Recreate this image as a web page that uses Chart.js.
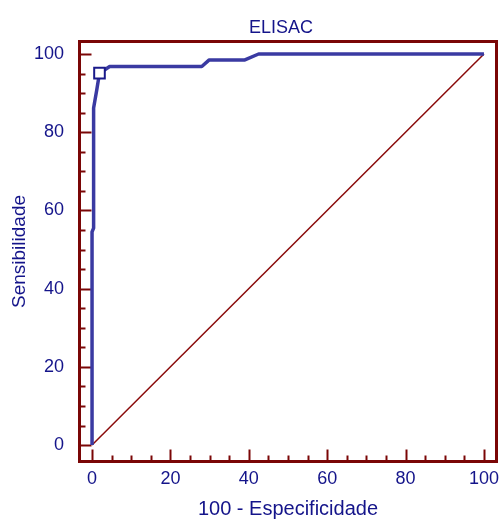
<!DOCTYPE html>
<html>
<head>
<meta charset="utf-8">
<script src="https://cdn.jsdelivr.net/npm/chart.js@4/dist/chart.umd.min.js"></script>
<style>
  html, body { margin: 0; padding: 0; background: #ffffff; overflow: hidden; }
  #wrap { width: 501px; height: 523px; }
  canvas { display: block; }
</style>
</head>
<body>
<div id="wrap"><canvas id="c" width="501" height="523"></canvas></div>
<script>
// ROC curve values (x = 100 - Especificidade, y = Sensibilidade)
const chartTitle = 'ELISAC';
const xTitle = '100 - Especificidade';
const yTitle = 'Sensibilidade';
const rocX = [0, 0, 0.4, 0.4, 1.2, 1.9, 4.5, 28.0, 29.9, 39.0, 42.5, 100];
const rocY = [0, 54.5, 55.5, 86.2, 90.8, 95.1, 96.8, 96.8, 98.5, 98.5, 100, 100];
const optimalX = [1.9];
const optimalY = [95.1];
const diagX = [0, 100];
const diagY = [0, 100];
const majorTicks = [0, 20, 40, 60, 80, 100];
const minorTicks = [0, 5, 10, 15, 20, 25, 30, 35, 40, 45, 50, 55, 60, 65, 70, 75, 80, 85, 90, 95, 100];

const NAVY = '#14148a';
const CURVE = '#3a3aa2';
const MAROON = '#7a0606';

const toPts = (xs, ys) => xs.map((x, i) => ({x: x, y: ys[i]}));

const framePlugin = {
  id: 'frame',
  beforeDatasetsDraw(chart) {
    const {ctx, chartArea: a, scales: {x, y}} = chart;
    ctx.save();
    ctx.strokeStyle = MAROON;
    ctx.lineWidth = 2;
    minorTicks.forEach(v => {
      const len = majorTicks.includes(v) ? 12 : 6;
      const px = Math.round(x.getPixelForValue(v)) + 0.5;
      ctx.beginPath();
      ctx.moveTo(px, a.bottom);
      ctx.lineTo(px, a.bottom - len);
      ctx.stroke();
      const py = Math.round(y.getPixelForValue(v)) + 0.5;
      ctx.beginPath();
      ctx.moveTo(a.left, py);
      ctx.lineTo(a.left + len, py);
      ctx.stroke();
    });
    ctx.restore();
  },
  afterDraw(chart) {
    const {ctx, chartArea: a} = chart;
    ctx.save();
    ctx.strokeStyle = MAROON;
    ctx.lineWidth = 3;
    ctx.strokeRect(a.left, a.top, a.right - a.left, a.bottom - a.top);
    ctx.fillStyle = NAVY;
    ctx.font = '18px "Liberation Sans", Arial, sans-serif';
    ctx.textAlign = 'center';
    ctx.textBaseline = 'alphabetic';
    ctx.fillText(chartTitle, 281, 32.5);
    ctx.restore();
  }
};

new Chart(document.getElementById('c'), {
  type: 'scatter',
  data: {
    datasets: [
      {
        data: toPts(diagX, diagY),
        showLine: true,
        borderColor: '#8a0a0a',
        borderWidth: 1.5,
        pointRadius: 0,
        tension: 0,
        order: 3
      },
      {
        data: toPts(rocX, rocY),
        showLine: true,
        borderColor: CURVE,
        borderWidth: 3.5,
        pointRadius: 0,
        tension: 0,
        borderJoinStyle: 'round',
        order: 2
      },
      {
        data: toPts(optimalX, optimalY),
        showLine: false,
        pointStyle: 'rect',
        pointRadius: 7.5,
        pointBackgroundColor: '#ffffff',
        pointBorderColor: '#1a1a8a',
        pointBorderWidth: 2,
        order: 1
      }
    ]
  },
  options: {
    responsive: false,
    animation: false,
    devicePixelRatio: 1,
    layout: { autoPadding: false, padding: { top: 41.5, right: 4.5, left: 0, bottom: 0 } },
    plugins: {
      legend: { display: false },
      tooltip: { enabled: false },
      title: { display: false }
    },
    scales: {
      x: {
        type: 'linear',
        min: -3.2,
        max: 103.2,
        afterFit(s) { s.height = 61.5; s.paddingLeft = 0; s.paddingRight = 0; },
        afterBuildTicks(s) { s.ticks = majorTicks.map(v => ({value: v})); },
        grid: { display: false, drawTicks: false },
        border: { display: false },
        ticks: {
          color: NAVY,
          padding: 7,
          maxRotation: 0,
          font: { family: '"Liberation Sans", Arial, sans-serif', size: 18 }
        },
        title: {
          display: true,
          text: xTitle,
          color: NAVY,
          padding: { top: 0, bottom: 1.5 },
          font: { family: '"Liberation Sans", Arial, sans-serif', size: 20 }
        }
      },
      y: {
        type: 'linear',
        min: -4.2,
        max: 103.2,
        afterFit(s) { s.width = 79.5; s.paddingTop = 0; s.paddingBottom = 0; },
        afterBuildTicks(s) { s.ticks = majorTicks.map(v => ({value: v})); },
        grid: { display: false, drawTicks: false },
        border: { display: false },
        ticks: {
          color: NAVY,
          padding: 15.5,
          font: { family: '"Liberation Sans", Arial, sans-serif', size: 18 }
        },
        title: {
          display: true,
          text: yTitle,
          color: NAVY,
          padding: { top: 8.6, bottom: 0 },
          font: { family: '"Liberation Sans", Arial, sans-serif', size: 19 }
        }
      }
    }
  },
  plugins: [framePlugin]
});
</script>
</body>
</html>
